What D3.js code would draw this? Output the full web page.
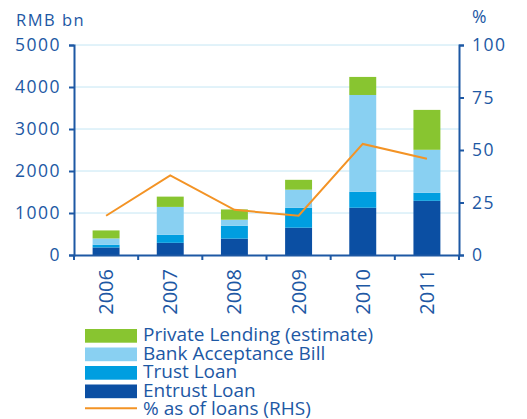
<!DOCTYPE html>
<html>
<head>
<meta charset="utf-8">
<script src="https://cdn.jsdelivr.net/npm/d3@7"></script>
<style>
	body { margin: 0; background: #fff; }
	text { font-family: "Open Sans", sans-serif; fill: #1d58a4; }
</style>
</head>
<body>
<div id="chart-area"></div>
<script>

// Data
let years = ["2006", "2007", "2008", "2009", "2010", "2011"];
let entrustLoan = [180, 290, 390, 650, 1125, 1290];
let trustLoan = [65, 190, 305, 475, 380, 190];
let bankAcceptance = [150, 665, 145, 430, 2305, 1025];
let privateLending = [190, 245, 245, 235, 430, 950];
let pctOfLoans = [18.7, 37.9, 21.5, 18.7, 52.9, 45.8];

let leftTicks = [0, 1000, 2000, 3000, 4000, 5000];
let rightTicks = [0, 25, 50, 75, 100];

let seriesNames = ["Entrust Loan", "Trust Loan", "Bank Acceptance Bill", "Private Lending (estimate)"];
let seriesColors = ["#0b4fa3", "#009ee0", "#89d0f2", "#88c530"];
let lineName = "% as of loans (RHS)";
let lineColor = "#f39325";

let width = 527,
	height = 419;

let margin = {top: 45, left: 74, right: 68, bottom: 164};
let innerW = width - margin.left - margin.right,
	innerH = height - margin.top - margin.bottom;

let svg = d3.select("#chart-area").append("svg")
	.attr("width", width)
	.attr("height", height);

let g = svg.append("g")
	.attr("transform", `translate(${margin.left},${margin.top})`);

// scales
let x = d3.scaleBand()
	.domain(years)
	.range([0, innerW])
	.paddingInner(0.58)
	.paddingOuter(0.29);

let yLeft = d3.scaleLinear().domain([0, 5000]).range([innerH, 0]);
let yRight = d3.scaleLinear().domain([0, 100]).range([innerH, 0]);

// gridlines
g.selectAll(".grid").data(leftTicks.slice(1))
	.enter().append("line")
	.attr("class", "grid")
	.attr("x1", 0).attr("x2", innerW)
	.attr("y1", d => yLeft(d)).attr("y2", d => yLeft(d))
	.attr("stroke", "#c4e6f4")
	.attr("stroke-width", 1);

// stacked bars
let table = years.map((y, i) => ({
	year: y,
	"Entrust Loan": entrustLoan[i],
	"Trust Loan": trustLoan[i],
	"Bank Acceptance Bill": bankAcceptance[i],
	"Private Lending (estimate)": privateLending[i]
}));
let stacked = d3.stack().keys(seriesNames)(table);

g.selectAll(".series").data(stacked)
	.enter().append("g")
	.attr("fill", (d, i) => seriesColors[i])
	.selectAll("rect").data(d => d)
	.enter().append("rect")
	.attr("x", d => x(d.data.year))
	.attr("width", x.bandwidth())
	.attr("y", d => yLeft(d[1]))
	.attr("height", d => yLeft(d[0]) - yLeft(d[1]));

// line
let line = d3.line()
	.x((d, i) => x(years[i]) + x.bandwidth() / 2)
	.y(d => yRight(d));

g.append("path")
	.datum(pctOfLoans)
	.attr("d", line)
	.attr("fill", "none")
	.attr("stroke", lineColor)
	.attr("stroke-width", 2);

// axes
let axisColor = "#1d58a4";

let leftAxis = g.append("g")
	.call(d3.axisLeft(yLeft).tickValues(leftTicks).tickFormat(d3.format("d")).tickSize(5).tickPadding(8));
let rightAxis = g.append("g")
	.attr("transform", `translate(${innerW},0)`)
	.call(d3.axisRight(yRight).tickValues(rightTicks).tickFormat(d3.format("d")).tickSize(5).tickPadding(8));
let bottomAxis = g.append("g")
	.attr("transform", `translate(0,${innerH})`)
	.call(d3.axisBottom(x).tickSize(0).tickPadding(8));

[leftAxis, rightAxis, bottomAxis].forEach(a => {
	a.select(".domain").attr("stroke", axisColor).attr("stroke-width", 2);
	a.selectAll(".tick line").attr("stroke", axisColor).attr("stroke-width", 2);
	a.selectAll("text")
		.style("font-size", "17.5px")
		.style("letter-spacing", "1.5px")
		.attr("fill", axisColor);
});

// bottom ticks sit between bands
g.selectAll(".xtick").data(d3.range(years.length + 1))
	.enter().append("line")
	.attr("x1", d => d * x.step()).attr("x2", d => d * x.step())
	.attr("y1", innerH).attr("y2", innerH + 5)
	.attr("stroke", axisColor).attr("stroke-width", 2);

bottomAxis.selectAll("text")
	.attr("transform", "rotate(-90)")
	.attr("text-anchor", "end")
	.attr("x", -14)
	.attr("y", 0)
	.attr("dy", "0.35em")
	.style("font-size", "20px")
	.style("letter-spacing", "0px");

// axis titles
svg.append("text")
	.attr("x", 16).attr("y", 26)
	.style("font-size", "16.5px")
	.style("letter-spacing", "1.5px")
	.text("RMB bn");

svg.append("text")
	.attr("x", 472).attr("y", 23)
	.style("font-size", "17.5px")
	.text("%");

// legend
let legendItems = [
	{name: seriesNames[3], color: seriesColors[3]},
	{name: seriesNames[2], color: seriesColors[2]},
	{name: seriesNames[1], color: seriesColors[1]},
	{name: seriesNames[0], color: seriesColors[0]},
	{name: lineName, color: lineColor, line: true}
];

let legend = svg.append("g").attr("transform", "translate(85,329)");

let rows = legend.selectAll(".row").data(legendItems)
	.enter().append("g")
	.attr("transform", (d, i) => `translate(0,${i * 18.5})`);

rows.filter(d => !d.line).append("rect")
	.attr("width", 52).attr("height", 13.7)
	.attr("fill", d => d.color);

rows.filter(d => d.line).append("line")
	.attr("x1", 0).attr("x2", 52)
	.attr("y1", 5.3).attr("y2", 5.3)
	.attr("stroke", d => d.color)
	.attr("stroke-width", 2);

rows.append("text")
	.attr("x", 58).attr("y", 12)
	.style("font-size", "19px")
	.text(d => d.name);

</script>
</body>
</html>
